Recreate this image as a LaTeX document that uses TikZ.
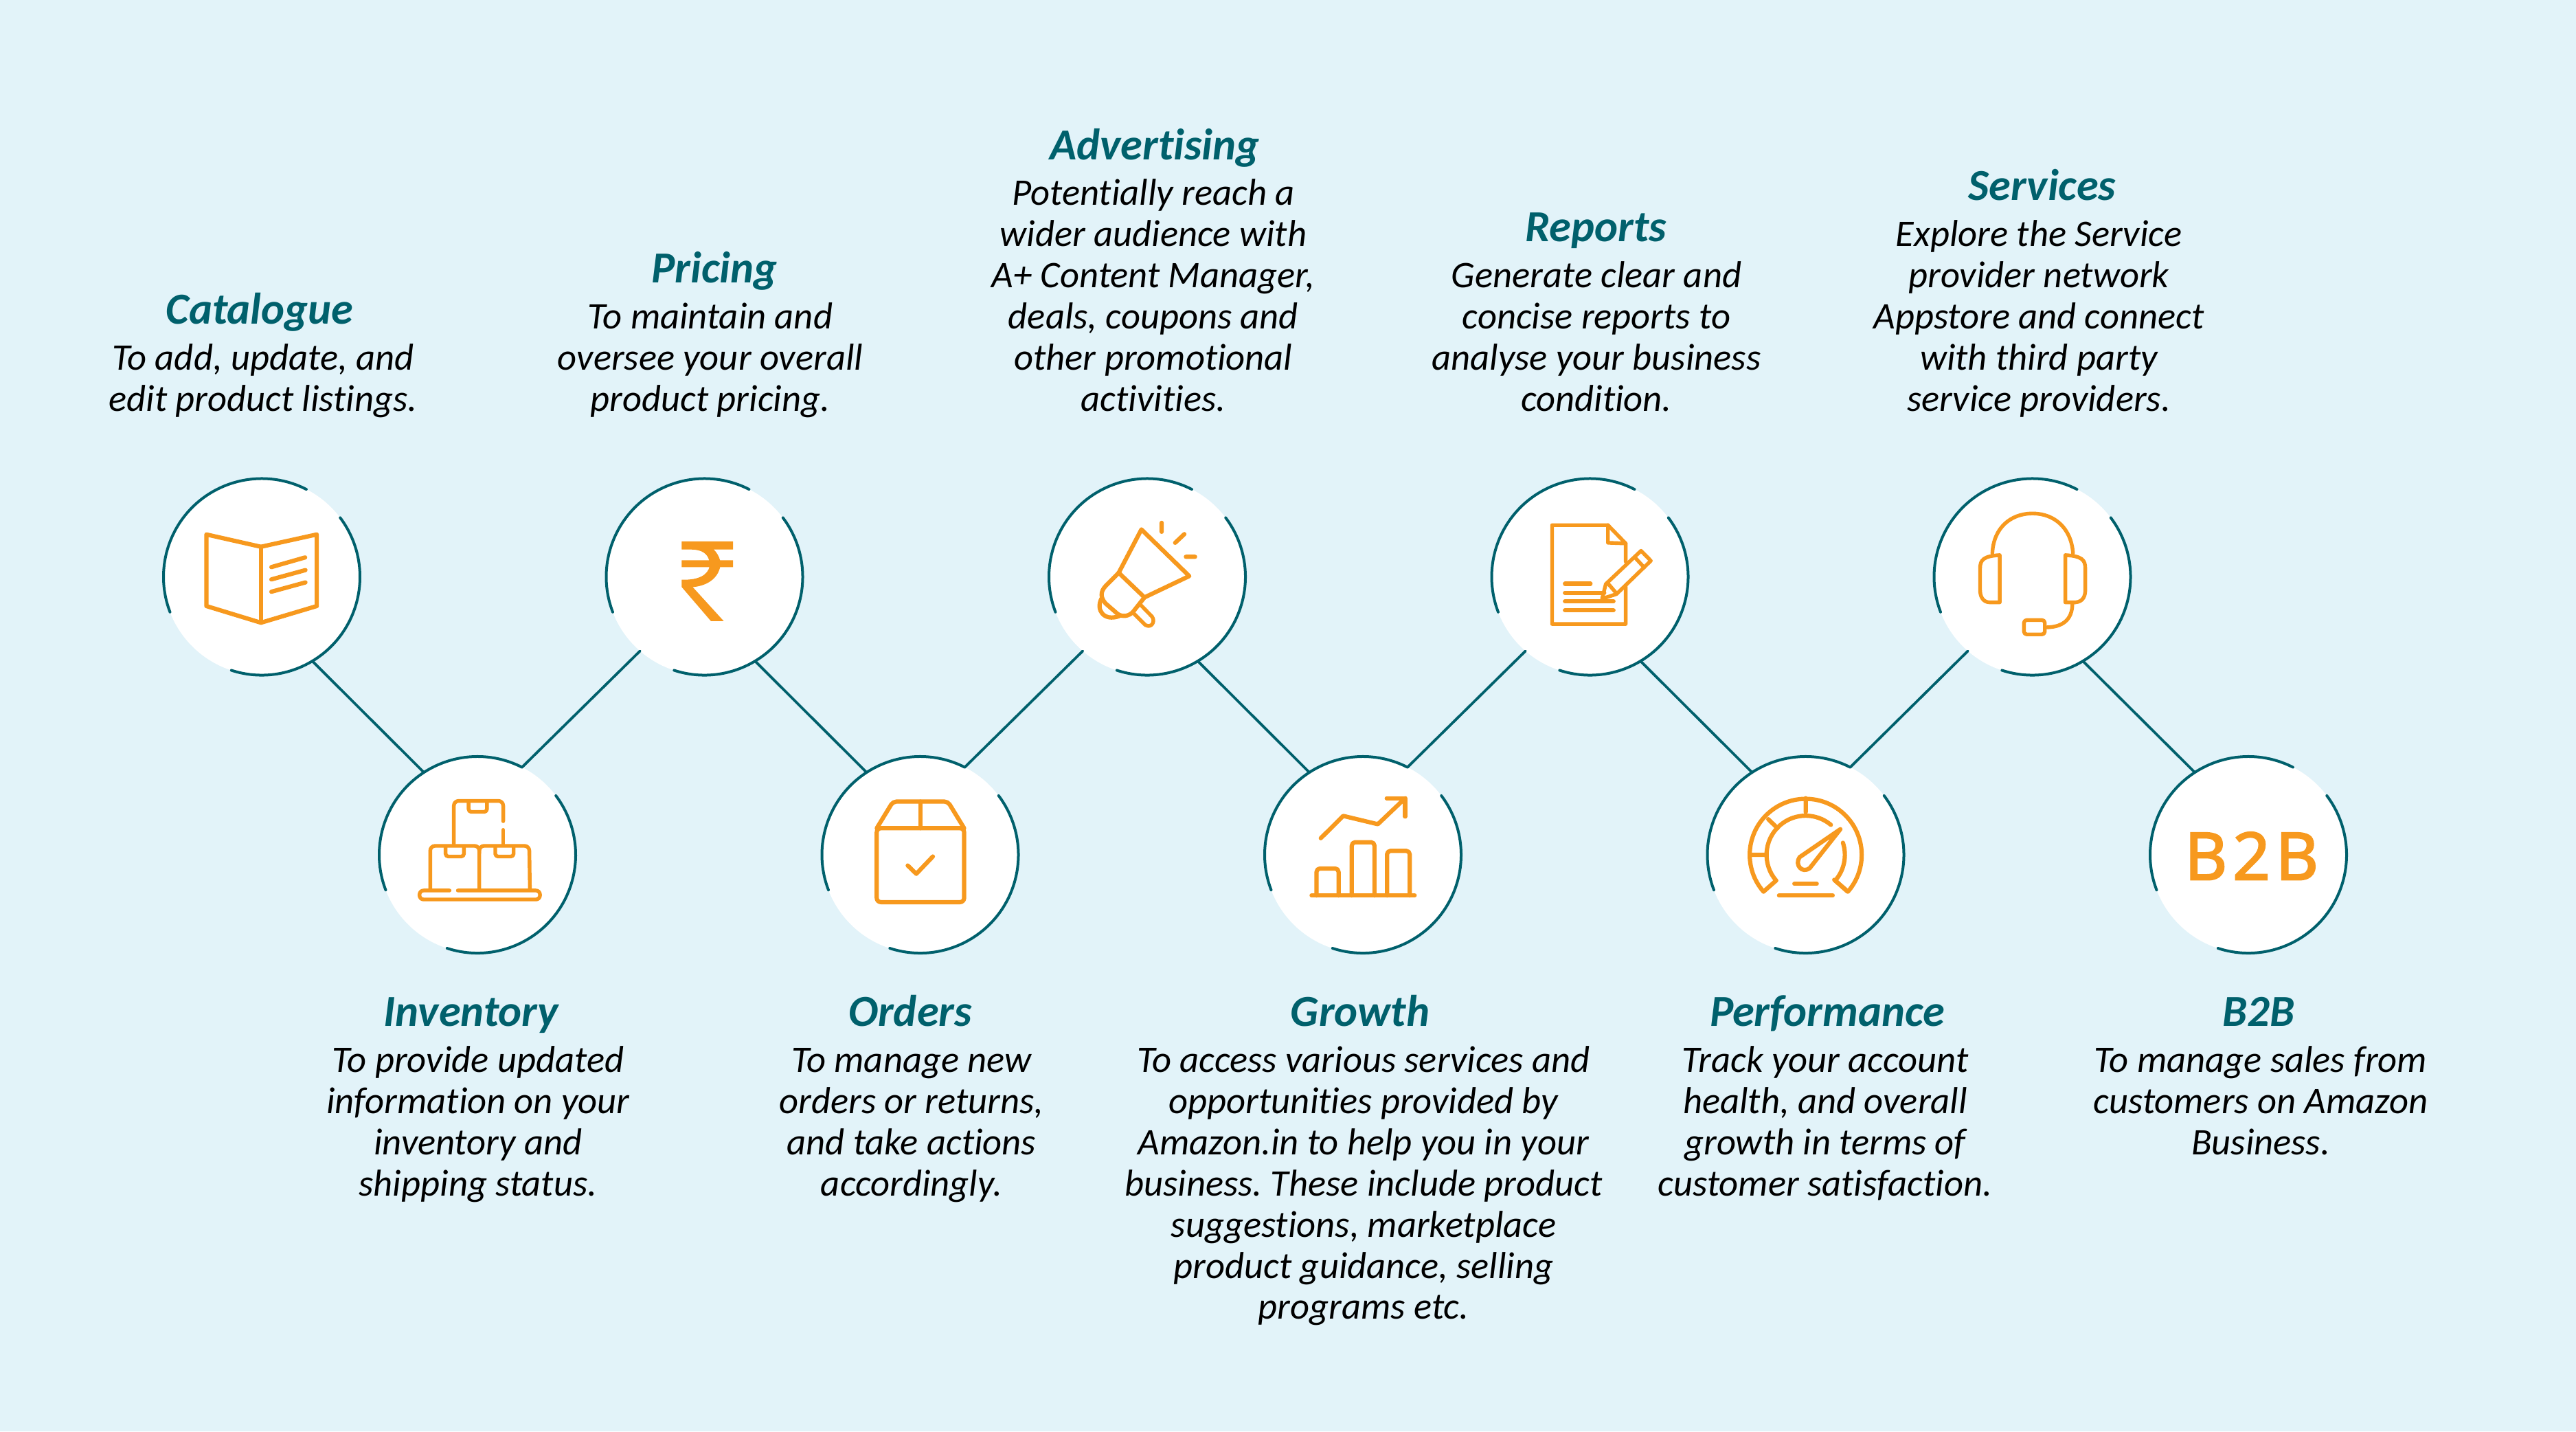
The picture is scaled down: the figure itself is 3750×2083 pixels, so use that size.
\documentclass[tikz,border=0pt]{standalone}
\usepackage{fontspec}
\usetikzlibrary{calc}
\setmainfont[Ligatures=CommonOff]{Carlito}
\newfontfamily\bbfont[LetterSpace=8,FakeBold=2.2]{Noto Sans}
\definecolor{bgc}{HTML}{E2F3F9}
\definecolor{tealc}{HTML}{00606C}
\definecolor{orangec}{HTML}{F7991E}
\tikzset{
  disc/.style={circle,fill=white,inner sep=0pt,outer sep=0pt,minimum size=286pt},
  ringline/.style={draw=tealc,line width=4pt,line cap=round},
  linkline/.style={draw=tealc,line width=3.8pt,line cap=round},
  iconline/.style={draw=orangec,line width=6.2pt,line cap=round,line join=round},
  thinicon/.style={draw=orangec,line width=5.4pt,line cap=round,line join=round},
  headtxt/.style={font=\fontsize{64.5}{64}\selectfont\bfseries\itshape,text=tealc,inner sep=0pt,anchor=base,yshift=-2.5pt},
  bodytxt/.style={font=\fontsize{54.6}{59.9}\selectfont\itshape\frenchspacing,text=black,inner sep=0pt,anchor=base,align=center,yshift=-1.5pt},
  zoomframe/.style={x=0.4464pt,y=-0.4847pt}
}
\newcommand{\ringarcs}[1]{%
  \draw[ringline] (#1.63) arc[start angle=63,end angle=201,radius=143pt];
  \draw[ringline] (#1.252) arc[start angle=252,end angle=397,radius=143pt];}
\begin{document}
\begin{tikzpicture}[x=1pt,y=-1pt]
\useasboundingbox (0,0) rectangle (3750,2083);
\fill[bgc] (0,0) rectangle (3750,2083);
% discs
\node[disc] (catalogue) at (381,839.5) {};
\node[disc] (inventory) at (695,1244) {};
\node[disc] (pricing) at (1025.5,839.5) {};
\node[disc] (orders) at (1339.5,1244) {};
\node[disc] (advertising) at (1670,839.5) {};
\node[disc] (growth) at (1984,1244) {};
\node[disc] (reports) at (2314.5,839.5) {};
\node[disc] (performance) at (2628.5,1244) {};
\node[disc] (services) at (2958.5,839.5) {};
\node[disc] (btob) at (3273,1244) {};
% connectors
\draw[linkline] (catalogue.-59) -- (inventory.123);
\draw[linkline] (inventory.63) -- (pricing.229);
\draw[linkline] (pricing.-59) -- (orders.123);
\draw[linkline] (orders.63) -- (advertising.229);
\draw[linkline] (advertising.-59) -- (growth.123);
\draw[linkline] (growth.63) -- (reports.229);
\draw[linkline] (reports.-59) -- (performance.123);
\draw[linkline] (performance.63) -- (services.229);
\draw[linkline] (services.-59) -- (btob.123);
% rings
\ringarcs{catalogue}\ringarcs{inventory}\ringarcs{pricing}\ringarcs{orders}\ringarcs{advertising}
\ringarcs{growth}\ringarcs{reports}\ringarcs{performance}\ringarcs{services}\ringarcs{btob}
% icons: book and boxes
\begin{scope}[shift={(200,660)},zoomframe]
\draw[iconline] (225,243) -- (403,280) -- (585,243) -- (585,458) -- (403,508) -- (225,458) -- cycle;
\draw[iconline] (403,280) -- (403,508);
\draw[iconline] (437,341) -- (547,312) (437,378) -- (548,350) (437,415) -- (548,387);
\draw[thinicon,rounded corners=7pt] (1032,1172) -- (1032,1043) -- (1193,1043) -- (1193,1104);
\draw[thinicon] (1193,1130) -- (1193,1172);
\draw[thinicon,rounded corners=4pt] (1080,1045) -- (1080,1076) -- (1140,1076) -- (1140,1045);
\draw[thinicon,rounded corners=7pt] (955,1310) -- (955,1178) -- (1115,1178) -- (1115,1310);
\draw[thinicon,rounded corners=7pt] (1115,1200) -- (1115,1178) -- (1278,1178) -- (1280,1310);
\draw[thinicon,rounded corners=4pt] (1005,1180) -- (1005,1210) -- (1065,1210) -- (1065,1180);
\draw[thinicon,rounded corners=4pt] (1167,1180) -- (1167,1210) -- (1227,1210) -- (1227,1180);
\draw[thinicon,rounded corners=6pt] (1018,1312) -- (920,1312) -- (920,1339) -- (1313,1339) -- (1313,1312) -- (1045,1312);
\end{scope}
% icons: rupee and parcel
\begin{scope}[shift={(850,660)},zoomframe]
\filldraw[orangec,line width=1.2pt] (320,265) -- (485,265) -- (485,287) -- (420,287) .. controls (432,297) and (440,310) .. (443,322) -- (485,322) -- (485,340) -- (443,340) .. controls (435,375) and (400,397) .. (352,400) -- (453,502) -- (415,502) -- (320,400) -- (320,380) .. controls (375,382) and (405,365) .. (411,340) -- (320,340) -- (320,322) -- (410,322) .. controls (405,300) and (385,287) .. (350,287) -- (320,287) -- cycle;
\draw[iconline,rounded corners=6pt] (955,1125) -- (955,1347) -- (1240,1347) -- (1240,1125) -- cycle;
\draw[iconline,rounded corners=5pt] (955,1125) -- (1008,1045) -- (1187,1045) -- (1240,1125);
\draw[iconline] (1097,1045) -- (1097,1125);
\draw[iconline] (1056,1237) -- (1084,1262) -- (1138,1210);
\end{scope}
% icons: megaphone and growth
\begin{scope}[shift={(1500,660)},zoomframe]
\draw[iconline] (288,358) -- (362,228) -- (518,368) -- (372,432) -- cycle;
\draw[iconline] (288,358) -- (245,398) .. controls (228,415) and (228,432) .. (245,450) -- (285,482) .. controls (302,492) and (322,488) .. (335,475) -- (372,432);
\draw[iconline] (232,435) .. controls (212,470) and (240,505) .. (290,488);
\draw[thinicon] (360,455) -- (397,490) .. controls (408,505) and (395,525) .. (375,515) -- (337,480);
\draw[iconline] (428,208) -- (428,235) (472,268) -- (502,242) (507,310) -- (537,310);
\draw[iconline] (917,1327) -- (1253,1327);
\draw[iconline,rounded corners=5pt] (933,1327) -- (933,1246) -- (1005,1246) -- (1005,1327);
\draw[iconline,rounded corners=5pt] (1048,1327) -- (1048,1167) -- (1122,1167) -- (1122,1327);
\draw[iconline,rounded corners=5pt] (1163,1327) -- (1163,1193) -- (1237,1193) -- (1237,1327);
\draw[iconline] (947,1155) -- (1020,1088) -- (1133,1113) -- (1222,1035);
\draw[iconline] (1162,1035) -- (1222,1035) -- (1222,1090);
\end{scope}
% icons: report and gauge
\begin{scope}[shift={(2130,660)},zoomframe]
\draw[thinicon] (530,400) -- (530,512) -- (290,512) -- (290,215) -- (472,215) -- (530,270) -- (530,325);
\draw[thinicon] (472,215) -- (472,268) -- (530,270);
\draw[iconline] (332,391) -- (415,391) (332,418) -- (460,418) (332,444) -- (490,444) (332,471) -- (490,471);
\draw[thinicon] (465,392) -- (580,292) -- (612,322) -- (500,422) -- (453,436) -- cycle;
\draw[thinicon] (472,390) -- (500,420) (560,312) -- (590,342);
\coordinate (gc) at (1117,1205);
\draw[iconline] (980,1315) -- ($(gc)+(221:81.5pt)$) arc[start angle=221,end angle=-41,radius=81.5pt] -- (1210,1280);
\draw[iconline] ($(gc)+(221:57pt)$) arc[start angle=221,end angle=50,radius=57pt];
\draw[iconline] ($(gc)+(18:57pt)$) arc[start angle=18,end angle=-41,radius=57pt] -- (1253,1315);
\draw[iconline] ($(gc)+(221:57pt)$) -- (980,1315);
\draw[iconline] (1117,1035) -- (1117,1077) (995,1098) -- (1025,1125) (935,1205) -- (987,1205);
\draw[iconline] (1230,1128) -- (1097,1212) .. controls (1080,1235) and (1105,1262) .. (1130,1245) -- cycle;
\draw[iconline] (1080,1292) -- (1153,1292) (1030,1327) -- (1205,1327);
\end{scope}
% icon: headset
\begin{scope}[shift={(2770,660)},zoomframe]
\draw[thinicon] (292,300) .. controls (295,225) and (350,180) .. (423,180) .. controls (495,180) and (550,225) .. (555,300);
\draw[thinicon] (316,305) -- (316,447) -- (285,447) .. controls (258,447) and (252,425) .. (252,410) -- (252,345) .. controls (252,320) and (262,308) .. (316,305);
\draw[thinicon] (530,305) -- (530,447) -- (562,447) .. controls (590,445) and (595,425) .. (595,410) -- (595,345) .. controls (595,320) and (585,308) .. (530,305);
\draw[thinicon] (553,450) .. controls (553,500) and (520,522) .. (465,522);
\draw[thinicon,rounded corners=4pt] (395,500) rectangle (463,543);
\node[inner sep=0pt,anchor=base,text=orangec,font=\fontsize{96}{96}\selectfont\bbfont] (btobmark) at (1137,1280) {B2B};
\end{scope}
% texts
\node[headtxt] (t1) at (378,469.3) {Catalogue};
\node[bodytxt] (b1) at (383,596.7) {To add, update, and\\edit product listings.};
\node[headtxt] (t2) at (1040,409.3) {Pricing};
\node[bodytxt] (b2) at (1034,596.7) {To maintain and\\oversee your overall\\product pricing.};
\node[headtxt] (t3) at (1681,229.5) {Advertising};
\node[bodytxt] (b3) at (1679,596.7) {Potentially reach a\\wider audience with\\A+ Content Manager,\\deals, coupons and\\other promotional\\activities.};
\node[headtxt] (t4) at (2323,349.4) {Reports};
\node[bodytxt] (b4) at (2324,596.7) {Generate clear and\\concise reports to\\analyse your business\\condition.};
\node[headtxt] (t5) at (2973,289.4) {Services};
\node[bodytxt] (b5) at (2968,596.7) {Explore the Service\\provider network\\Appstore and connect\\with third party\\service providers.};
\node[headtxt] (t6) at (686,1491) {Inventory};
\node[bodytxt] (b6) at (696,1738.7) {To provide updated\\information on your\\inventory and\\shipping status.};
\node[headtxt] (t7) at (1325,1491) {Orders};
\node[bodytxt] (b7) at (1327,1738.7) {To manage new\\orders or returns,\\and take actions\\accordingly.};
\node[headtxt] (t8) at (1980,1491) {Growth};
\node[bodytxt] (b8) at (1985,1918.4) {To access various services and\\opportunities provided by\\Amazon.in to help you in your\\business. These include product\\suggestions, marketplace\\product guidance, selling\\programs etc.};
\node[headtxt] (t9) at (2660,1491) {Performance};
\node[bodytxt] (b9) at (2657,1738.7) {Track your account\\health, and overall\\growth in terms of\\customer satisfaction.};
\node[headtxt] (t10) at (3288,1491) {B2B};
\node[bodytxt] (b10) at (3291,1678.8) {To manage sales from\\customers on Amazon\\Business.};
\end{tikzpicture}
\end{document}
